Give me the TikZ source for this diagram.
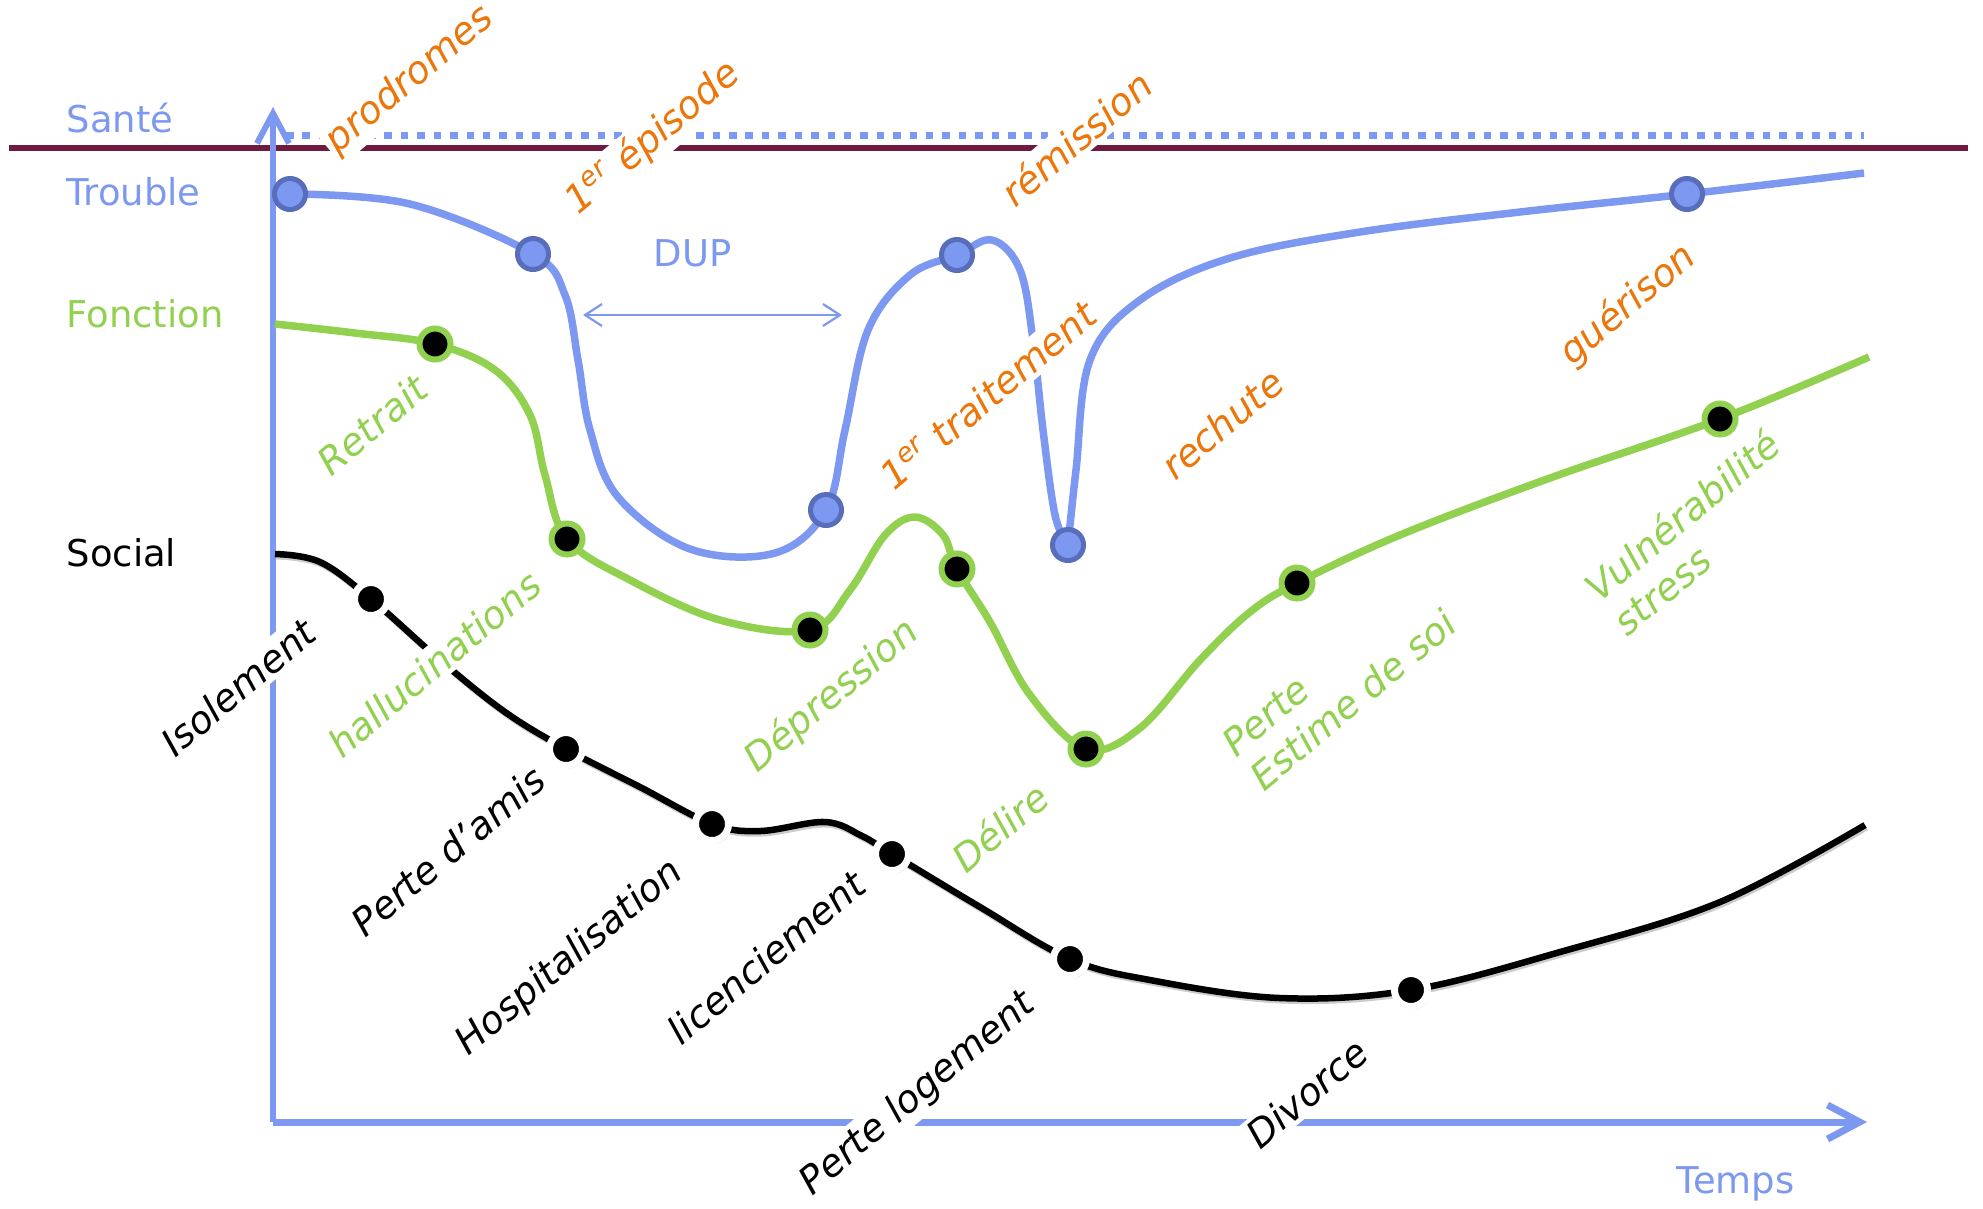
\documentclass[tikz,border=0pt]{standalone}
\usepackage{fontspec}
\setmainfont{DejaVu Sans}
\usepackage{tikz}
\usetikzlibrary{arrows.meta, backgrounds}
\definecolor{axisblue}{RGB}{124,152,240}
\definecolor{darkblue}{RGB}{88,110,186}
\definecolor{fgreen}{RGB}{146,208,80}
\definecolor{evorange}{RGB}{236,118,10}
\definecolor{santeline}{RGB}{110,27,63}
\tikzset{axislbl/.style = {anchor=base west, inner sep=0pt, font=\fontsize{10.5}{12}\selectfont},
         evt/.style = {rotate=40, fill=white, inner sep=1pt, align=left, font=\fontsize{10.8}{12.5}\selectfont\itshape},
         tpt/.style = {circle, draw=darkblue, fill=axisblue, line width=0.05cm, minimum size=0.31cm, inner sep=0pt},
         fpt/.style = {circle, draw=fgreen, fill=black, line width=0.06cm, minimum size=0.31cm, inner sep=0pt},
         spt/.style = {circle, draw=white, fill=black, line width=0.07cm, minimum size=0.33cm, inner sep=0pt,
                       preaction={fill=black!25, transform canvas={shift={(0.02cm,-0.03cm)}}}},
         social/.style = {line width=0.065cm, preaction={draw=black!20, line width=0.06cm, transform canvas={shift={(0.015cm,-0.025cm)}}}}}

\begin{document}
\begin{tikzpicture}[x=0.01cm, y=-0.01cm]
    \useasboundingbox (0,0) rectangle (1983,1208);

    % axis names
    \node[axislbl, text=axisblue] (sante) at (66,132) {Santé};
    \node[axislbl, text=axisblue] (trouble) at (66,205) {Trouble};
    \node[axislbl, text=fgreen] (fonction) at (66,327) {Fonction};
    \node[axislbl] (social) at (66,566) {Social};
    \node[axislbl, text=axisblue] (temps) at (1676,1193) {Temps};
    \node[axislbl, text=axisblue] (dup) at (653,266) {DUP};

    \coordinate (O) at (273,1122);
    \coordinate (ytop) at (273,107);
    \coordinate (xend) at (1867,1122);
    \coordinate (sl) at (9,148);
    \coordinate (sr) at (1968,148);
    \coordinate (dl) at (286,135);
    \coordinate (dr) at (1864,135);
    \coordinate (dupl) at (583,315);
    \coordinate (dupr) at (842,315);

    % points
    \node[tpt] (t1) at (290,194) {};
    \node[tpt] (t2) at (533,254) {};
    \node[tpt] (t3) at (826,510) {};
    \node[tpt] (t4) at (957,255) {};
    \node[tpt] (t5) at (1068,545) {};
    \node[tpt] (t6) at (1687,194) {};

    \node[fpt] (f1) at (435,344) {};
    \node[fpt] (f2) at (567,539) {};
    \node[fpt] (f3) at (810,630) {};
    \node[fpt] (f4) at (957,569) {};
    \node[fpt] (f5) at (1086,749) {};
    \node[fpt] (f6) at (1297,583) {};
    \node[fpt] (f7) at (1720,419) {};

    \node[spt] (s1) at (371,599) {};
    \node[spt] (s2) at (566,749) {};
    \node[spt] (s3) at (712,824) {};
    \node[spt] (s4) at (892,854) {};
    \node[spt] (s5) at (1070,959) {};
    \node[spt] (s6) at (1411,990) {};

    \begin{scope}[on background layer]
        \draw[santeline, line width=0.06cm] (sl) -- (sr);
        \draw[axisblue, line width=0.07cm, dash pattern=on 0.075cm off 0.089cm] (dl) -- (dr);
        \draw[axisblue, line width=0.06cm, -{Straight Barb[length=3mm, width=3.2mm]}] (O) -- (ytop);
        \draw[axisblue, line width=0.07cm, -{Straight Barb[length=3.2mm, width=3.4mm]}] (O) -- (xend);
        \draw[axisblue, line width=0.022cm, {Straight Barb[length=1.7mm, width=2.2mm]}-{Straight Barb[length=1.7mm, width=2.2mm]}] (dupl) -- (dupr);

        % trouble
        \draw[axisblue, line width=0.075cm] plot[smooth, tension=0.6] coordinates {(t1.center) (410,204) (t2.center)
            (565,295) (578,360) (590,430) (618,497) (690,549) (775,553) (t3.center) (845,430) (868,330) (910,275)
            (t4.center) (992,240) (1020,270) (1033,340) (1043,430) (1055,515) (t5.center)};
        \draw[axisblue, line width=0.075cm] plot[smooth, tension=0.6] coordinates {(t5.center) (1076,470) (1090,360)
            (1140,300) (1230,258) (1360,232) (1520,212) (t6.center) (1864,173)};

        % fonction
        \draw[fgreen, line width=0.075cm] plot[smooth, tension=0.6] coordinates {(275,324) (355,333) (f1.center)
            (495,370) (530,415) (545,475) (f2.center) (630,580) (720,620) (f3.center) (850,590) (885,535) (915,517)
            (943,535) (f4.center) (990,622) (1030,695) (f5.center) (1140,728) (1200,660) (1250,612) (f6.center)
            (1400,535) (1550,478) (f7.center) (1869,357)};

        % social
        \draw[social] plot[smooth, tension=0.6] coordinates {(275,554) (320,562) (s1.center) (440,660) (505,712)
            (s2.center) (640,787) (s3.center) (760,831) (825,822) (862,836) (s4.center) (980,907) (s5.center)
            (1150,980) (1280,998) (s6.center) (1560,952) (1720,902) (1865,825)};
    \end{scope}

    % events
    \node[evt, text=evorange] (prodromes) at (410,80) {prodromes};
    \node[evt, text=evorange] (episode) at (653,138) {1\textsuperscript{er} épisode};
    \node[evt, text=evorange] (remission) at (1076,138) {rémission};
    \node[evt, text=evorange] (traitement) at (988,395) {1\textsuperscript{er} traitement};
    \node[evt, text=evorange] (rechute) at (1222,424) {rechute};
    \node[evt, text=evorange] (guerison) at (1628,305) {guérison};

    \node[evt, text=fgreen] (retrait) at (372,425) {Retrait};
    \node[evt, text=fgreen] (hallu) at (434,664) {hallucinations};
    \node[evt, text=fgreen] (depression) at (832,696) {Dépression};
    \node[evt, text=fgreen] (delire) at (1000,827) {Délire};
    \node[evt, text=fgreen] (estime) at (1339,683) {Perte\\Estime de soi};
    \node[evt, text=fgreen] (vulner) at (1696,532) {Vulnérabilité\\stress};

    \node[evt] (isolement) at (238,687) {Isolement};
    \node[evt] (amis) at (448,851) {Perte d’amis};
    \node[evt] (hospi) at (570,958) {Hospitalisation};
    \node[evt] (licenc) at (766,957) {licenciement};
    \node[evt] (logement) at (918,1094) {Perte logement};
    \node[evt] (divorce) at (1307,1093) {Divorce};
\end{tikzpicture}
\end{document}
